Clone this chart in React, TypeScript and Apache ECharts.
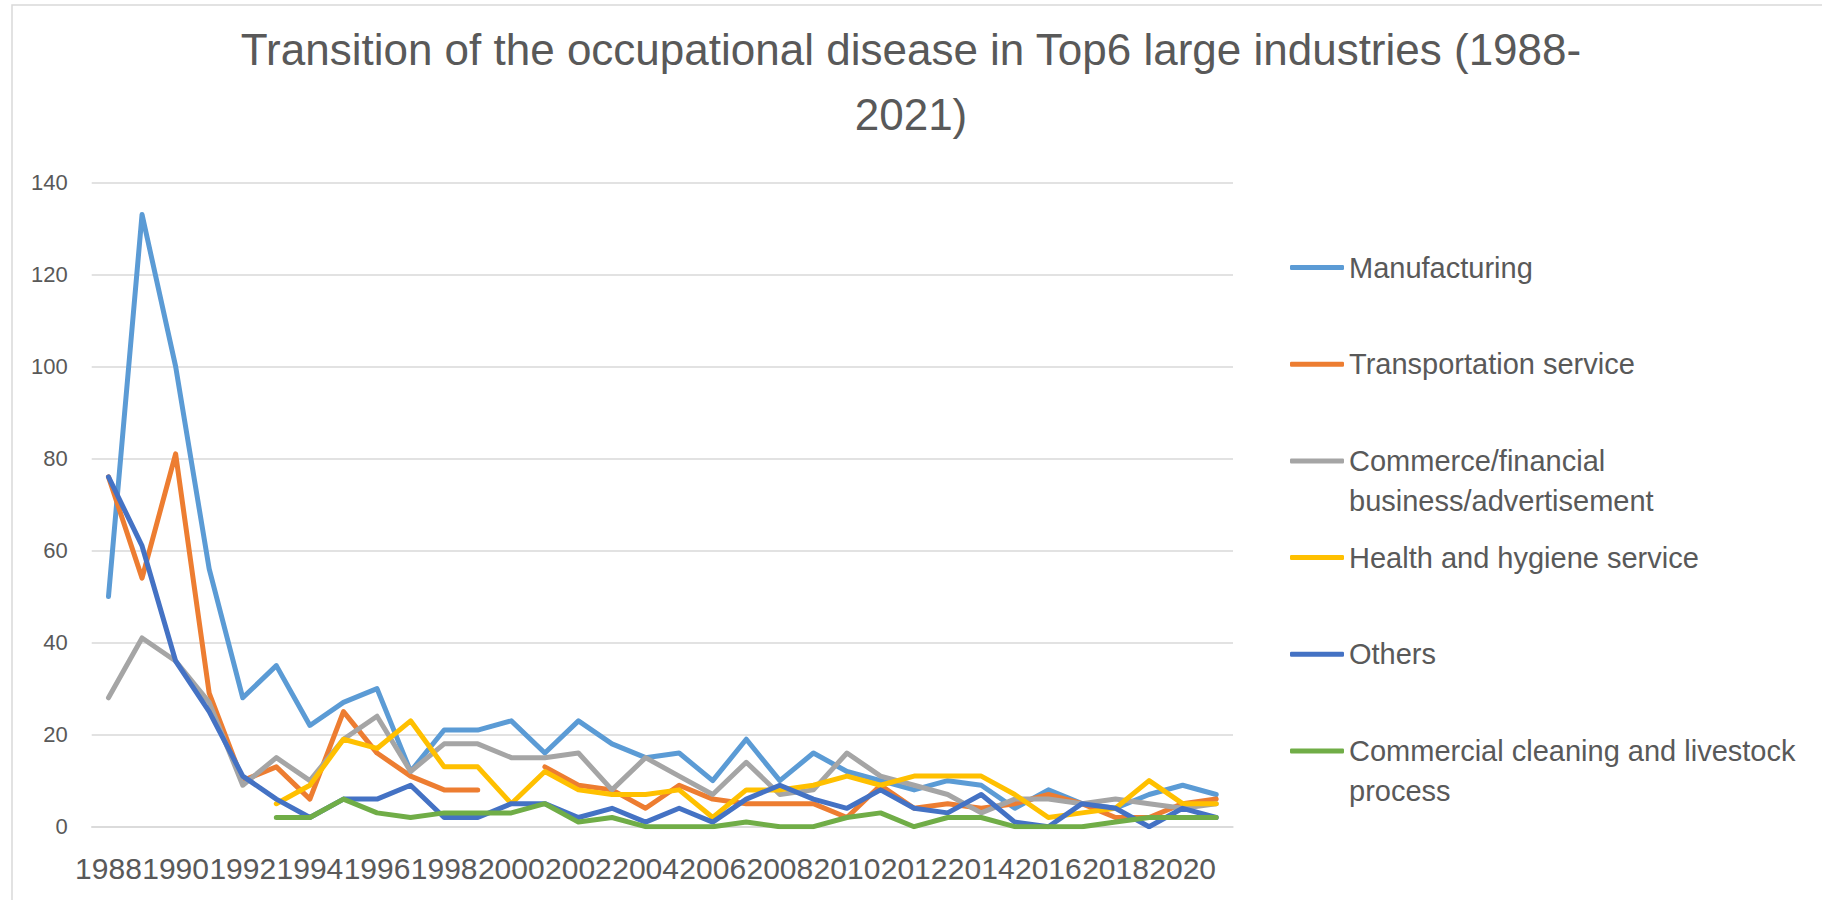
import React, { useEffect, useRef } from "react";
import * as echarts from "echarts";

const years = [
  "1988", "1989", "1990", "1991", "1992", "1993", "1994", "1995", "1996", "1997",
  "1998", "1999", "2000", "2001", "2002", "2003", "2004", "2005", "2006", "2007",
  "2008", "2009", "2010", "2011", "2012", "2013", "2014", "2015", "2016", "2017",
  "2018", "2019", "2020", "2021",
];

const manufacturing = [50, 133, 100, 56, 28, 35, 22, 27, 30, 12, 21, 21, 23, 16, 23, 18, 15, 16, 10, 19, 10, 16, 12, 10, 8, 10, 9, 4, 8, 5, 4, 7, 9, 7];
const transportation = [76, 54, 81, 29, 10, 13, 6, 25, 16, 11, 8, 8, null, 13, 9, 8, 4, 9, 6, 5, 5, 5, 2, 9, 4, 5, 4, 5, 7, 5, 2, 2, 5, 6];
const commerce = [28, 41, 36, 27, 9, 15, 10, 19, 24, 12, 18, 18, 15, 15, 16, 8, 15, 11, 7, 14, 7, 8, 16, 11, 9, 7, 3, 6, 6, 5, 6, 5, 4, 5];
const health = [null, null, null, null, null, 5, 9, 19, 17, 23, 13, 13, 5, 12, 8, 7, 7, 8, 2, 8, 8, 9, 11, 9, 11, 11, 11, 7, 2, 3, 4, 10, 5, 5];
const others = [76, 61, 36, 25, 11, 6, 2, 6, 6, 9, 2, 2, 5, 5, 2, 4, 1, 4, 1, 6, 9, 6, 4, 8, 4, 3, 7, 1, 0, 5, 4, 0, 4, 2];
const cleaning = [null, null, null, null, null, 2, 2, 6, 3, 2, 3, 3, 3, 5, 1, 2, 0, 0, 0, 1, 0, 0, 2, 3, 0, 2, 2, 0, 0, 0, 1, 2, 2, 2];

const seriesNames = [
  "Manufacturing",
  "Transportation service",
  "Commerce/financial business/advertisement",
  "Health and hygiene service",
  "Others",
  "Commercial cleaning and livestock process",
];
const legendTexts = [
  "Manufacturing",
  "Transportation service",
  "\nCommerce/financial\nbusiness/advertisement",
  "Health and hygiene service",
  "Others",
  "\nCommercial cleaning and livestock\nprocess",
];
const seriesValues = [manufacturing, transportation, commerce, health, others, cleaning];
const seriesColors = ["#5B9BD5", "#ED7D31", "#A5A5A5", "#FFC000", "#4472C4", "#70AD47"];

const FONT = "Liberation Sans";
const TEXT_COLOR = "#595959";
const GRID_COLOR = "#D9D9D9";

export default function App() {
  const ref = useRef<HTMLDivElement>(null);

  useEffect(() => {
    if (!ref.current) return;
    const chart = echarts.init(ref.current, null, { renderer: "svg" });

    const legendCenters = [267.5, 364.2, 460.9, 557.6, 654.3, 751];
    const legends = seriesNames.map((name, i) => {
      const multi = legendTexts[i].startsWith("\n");
      return {
        show: true,
        orient: "vertical",
        left: 1290,
        top: legendCenters[i] - (multi ? 60 : 20),
        padding: 0,
        selectedMode: false,
        icon: "roundRect",
        itemWidth: 54,
        itemHeight: 5,
        itemGap: 0,
        data: [name],
        formatter: () => legendTexts[i],
        textStyle: {
          fontFamily: FONT,
          fontSize: 29,
          lineHeight: 40,
          color: TEXT_COLOR,
        },
      };
    });

    chart.setOption({
      animation: false,
      backgroundColor: "#ffffff",
      title: {
        text: "Transition of the occupational disease in Top6 large industries (1988-\n2021)",
        left: "center",
        top: 17,
        padding: 0,
        textStyle: {
          fontFamily: FONT,
          fontSize: 44,
          lineHeight: 65,
          fontWeight: "normal",
          color: TEXT_COLOR,
        },
      },
      graphic: [
        {
          type: "rect",
          shape: { x: 12, y: 5, width: 1900, height: 1000 },
          style: { fill: "none", stroke: GRID_COLOR, lineWidth: 1.5 },
          silent: true,
        },
      ],
      legend: legends,
      grid: {
        left: 91.7,
        right: 589,
        top: 182.3,
        bottom: 73.3,
        containLabel: false,
      },
      xAxis: {
        type: "category",
        data: years,
        boundaryGap: true,
        axisLine: { show: true, lineStyle: { color: GRID_COLOR, width: 1.5 } },
        axisTick: { show: false },
        axisLabel: {
          interval: 1,
          fontFamily: FONT,
          fontSize: 30,
          color: TEXT_COLOR,
          margin: 27,
        },
        splitLine: { show: false },
      },
      yAxis: {
        type: "value",
        min: 0,
        max: 140,
        interval: 20,
        axisLine: { show: false },
        axisTick: { show: false },
        axisLabel: {
          fontFamily: FONT,
          fontSize: 22,
          color: TEXT_COLOR,
          margin: 24,
        },
        splitLine: { show: true, lineStyle: { color: GRID_COLOR, width: 1.5 } },
      },
      series: seriesNames.map((name, i) => ({
        name,
        type: "line",
        data: seriesValues[i],
        symbol: "none",
        showSymbol: false,
        connectNulls: false,
        color: seriesColors[i],
        lineStyle: { width: 5, color: seriesColors[i], cap: "round", join: "round" },
        emphasis: { disabled: true },
      })),
    });

    return () => chart.dispose();
  }, []);

  return (
    <div
      ref={ref}
      style={{ position: "absolute", left: 0, top: 0, width: 1822, height: 900, background: "#ffffff" }}
    />
  );
}
